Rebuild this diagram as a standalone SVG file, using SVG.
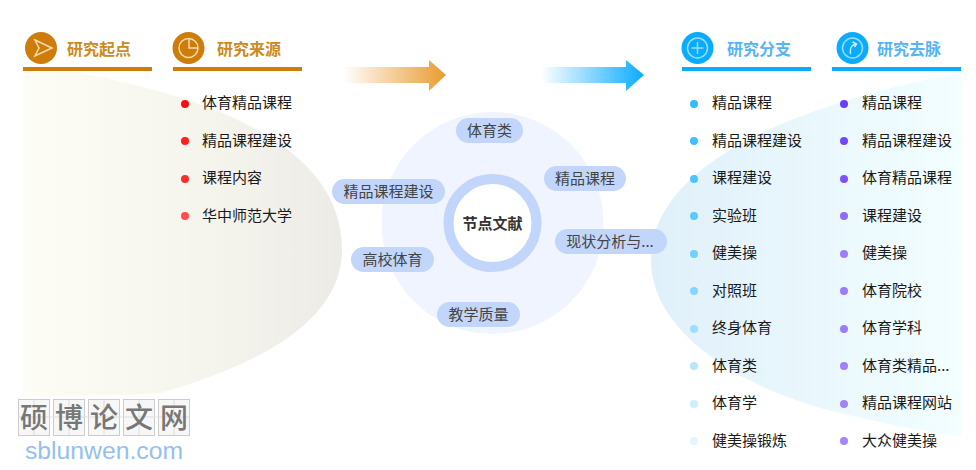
<svg xmlns="http://www.w3.org/2000/svg" width="976" height="470" viewBox="0 0 976 470">
<defs>
<linearGradient id="gl" x1="0" x2="1" y1="0" y2="0"><stop offset="0" stop-color="#fdfdf6"/><stop offset="0.5" stop-color="#f6f6ee"/><stop offset="1" stop-color="#edebe6"/></linearGradient>
<linearGradient id="gr" x1="0" x2="1" y1="0" y2="0"><stop offset="0" stop-color="#e0f0fa"/><stop offset="1" stop-color="#f2feff"/></linearGradient>
<linearGradient id="a1" x1="0" x2="1" y1="0" y2="0"><stop offset="0" stop-color="#e89c30" stop-opacity="0"/><stop offset="1" stop-color="#e89c30"/></linearGradient>
<linearGradient id="a2" x1="0" x2="1" y1="0" y2="0"><stop offset="0" stop-color="#0aacff" stop-opacity="0"/><stop offset="1" stop-color="#0aacff"/></linearGradient>
</defs>
<style>
text{font-family:"Noto Sans CJK SC","Liberation Sans",sans-serif;font-size:15px;fill:#1a1a1a}
.h1{font-size:16px;font-weight:700;fill:#cd8a20}
.h2{font-size:16px;font-weight:700;fill:#55b4f6}
.bo{fill:#cf7d0a}.bb{fill:#0aacff}
.pill{fill:#c2d6fb}
.pt{fill:#444;text-anchor:middle}
.ic{fill:none;stroke-width:1.5}
.wm{font-size:28px;font-weight:500;fill:#777;text-anchor:middle}
</style>
<path d="M23 71H70C170 90 342 130 342 250C342 320 260 365 160 393C120 396 70 396 23 396Z" fill="url(#gl)"/>
<path d="M961 73C840 95 651 150 651 260C651 340 760 395 840 413C880 423 920 430 961 437Z" fill="url(#gr)"/>
<g id="head-start"><circle cx="41" cy="48" r="16" class="bo"/><path class="ic" stroke="#f5dcae" d="M35 40L52 48L35 56L39 48Z"/><text x="67" y="55" class="h1">研究起点</text><rect x="23" y="67" width="129" height="4" class="bo"/></g>
<g id="head-source"><circle cx="188.500" cy="48" r="16" class="bo"/><circle cx="188.500" cy="48" r="9.500" class="ic" stroke="#f5dcae"/><path class="ic" stroke="#f5dcae" d="M189 39V48H198"/><text x="217" y="55" class="h1">研究来源</text><rect x="173" y="67" width="129" height="4" class="bo"/></g>
<g id="head-branch"><circle cx="697.500" cy="48" r="16" class="bb"/><circle cx="697.500" cy="48" r="10" class="ic" stroke="#9bdcff"/><path class="ic" stroke="#9bdcff" d="M691.500 48H703.500M697.500 42V54"/><text x="727" y="55" class="h2">研究分支</text><rect x="682" y="67" width="129" height="4" class="bb"/></g>
<g id="head-trace"><circle cx="852.500" cy="48" r="16" class="bb"/><circle cx="852.500" cy="48" r="10" class="ic" stroke="#9bdcff"/><path class="ic" stroke="#cdeeff" d="M850.500 54C849.500 49 851.500 45 855.500 44M852.500 42L856.500 44L854.500 47"/><text x="877" y="55" class="h2">研究去脉</text><rect x="832" y="67" width="129" height="4" class="bb"/></g>
<g id="connectors">
<path d="M343 67H429V60L446 75L429 91V83H343Z" fill="url(#a1)"/>
<path d="M541 67H626V60L644 75L626 91V83H541Z" fill="url(#a2)"/>
</g>
<g id="list-source">
<circle cx="185" cy="104" r="4" fill="#ff0d0d"/><text x="202" y="108">体育精品课程</text>
<circle cx="185" cy="141" r="4" fill="#ff1f1f"/><text x="202" y="146">精品课程建设</text>
<circle cx="185" cy="179" r="4" fill="#ff2e2e"/><text x="202" y="183">课程内容</text>
<circle cx="185" cy="216" r="4" fill="#ff4d4d"/><text x="202" y="221">华中师范大学</text>
</g>
<g id="list-branch">
<circle cx="694" cy="104" r="4" fill="#33bbff"/><text x="712" y="108">精品课程</text>
<circle cx="694" cy="141" r="4" fill="#40bfff"/><text x="712" y="146">精品课程建设</text>
<circle cx="694" cy="179" r="4" fill="#4dc4ff"/><text x="712" y="183">课程建设</text>
<circle cx="694" cy="216" r="4" fill="#5cc9ff"/><text x="712" y="221">实验班</text>
<circle cx="694" cy="254" r="4" fill="#70d0ff"/><text x="712" y="258">健美操</text>
<circle cx="694" cy="291" r="4" fill="#85d6ff"/><text x="712" y="296">对照班</text>
<circle cx="694" cy="329" r="4" fill="#9cdeff"/><text x="712" y="333">终身体育</text>
<circle cx="694" cy="366" r="4" fill="#b5e7ff"/><text x="712" y="371">体育类</text>
<circle cx="694" cy="404" r="4" fill="#ccefff"/><text x="712" y="408">体育学</text>
<circle cx="694" cy="441" r="4" fill="#e2f6ff"/><text x="712" y="446">健美操锻炼</text>
</g>
<g id="list-trace">
<circle cx="844" cy="104" r="4" fill="#6a3dfa"/><text x="862" y="108">精品课程</text>
<circle cx="844" cy="141" r="4" fill="#7346fa"/><text x="862" y="146">精品课程建设</text>
<circle cx="844" cy="179" r="4" fill="#7d52fa"/><text x="862" y="183">体育精品课程</text>
<circle cx="844" cy="216" r="4" fill="#8f6bfa"/><text x="862" y="221">课程建设</text>
<circle cx="844" cy="254" r="4" fill="#9b7dfa"/><text x="862" y="258">健美操</text>
<circle cx="844" cy="291" r="4" fill="#9b7dfa"/><text x="862" y="296">体育院校</text>
<circle cx="844" cy="329" r="4" fill="#9b7dfa"/><text x="862" y="333">体育学科</text>
<circle cx="844" cy="366" r="4" fill="#9e80fa"/><text x="862" y="371">体育类精品...</text>
<circle cx="844" cy="404" r="4" fill="#a082fa"/><text x="862" y="408">精品课程网站</text>
<circle cx="844" cy="441" r="4" fill="#a386fa"/><text x="862" y="446">大众健美操</text>
</g>
<g id="center"><circle cx="492.500" cy="223" r="111" fill="#eff4fe"/><circle cx="492.500" cy="223" r="44" fill="#fff" stroke="#c2d6fb" stroke-width="10"/><text x="492.500" y="229" text-anchor="middle" style="font-weight:700;fill:#333">节点文献</text></g>
<g id="n1"><rect x="456" y="118" width="67" height="25" rx="12.500" class="pill"/><text x="489.500" y="136" class="pt">体育类</text></g>
<g id="n2"><rect x="544" y="166" width="82" height="25" rx="12.500" class="pill"/><text x="585" y="184" class="pt">精品课程</text></g>
<g id="n3"><rect x="332" y="179" width="113" height="25" rx="12.500" class="pill"/><text x="388.500" y="197" class="pt">精品课程建设</text></g>
<g id="n4"><rect x="555" y="229" width="112" height="25" rx="12.500" class="pill"/><text x="610" y="247" class="pt">现状分析与...</text></g>
<g id="n5"><rect x="351" y="247" width="83" height="25" rx="12.500" class="pill"/><text x="392.500" y="265" class="pt">高校体育</text></g>
<g id="n6"><rect x="437" y="302" width="83" height="25" rx="12.500" class="pill"/><text x="478.500" y="320" class="pt">教学质量</text></g>
<g id="watermark">
<g fill="#f7f7f7" stroke="#ccc"><rect x="18.500" y="399.500" width="31" height="36"/><rect x="53.500" y="399.500" width="31" height="36"/><rect x="88.500" y="399.500" width="31" height="36"/><rect x="123.500" y="399.500" width="31" height="36"/><rect x="158.500" y="399.500" width="31" height="36"/></g>
<path d="M34 400V435M69 400V435M104 400V435M139 400V435M174 400V435M19 417H189" stroke="#ddd" fill="none"/>
<text x="34" y="428" class="wm">硕</text><text x="69" y="428" class="wm">博</text><text x="104" y="428" class="wm">论</text><text x="139" y="428" class="wm">文</text><text x="174" y="428" class="wm">网</text>
<text x="25" y="459" textLength="158" lengthAdjust="spacingAndGlyphs" style="font-family:'Liberation Sans',sans-serif;font-size:23px;fill:#94c0ee">sblunwen.com</text>
</g>
</svg>
